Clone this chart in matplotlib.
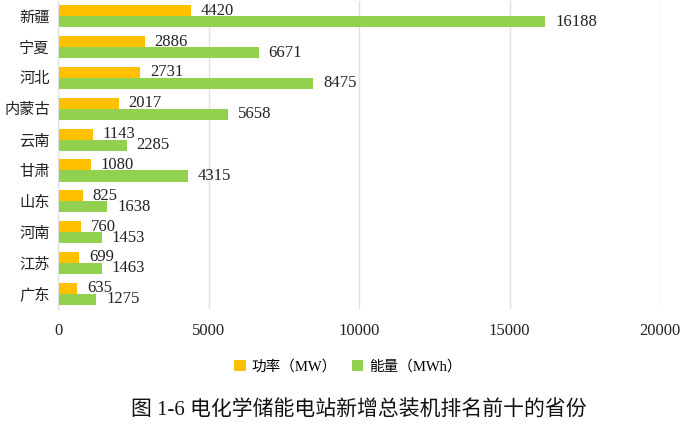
import matplotlib.pyplot as plt
import numpy as np

plt.rcParams['font.family'] = ['Liberation Serif', 'Noto Sans CJK SC', 'DejaVu Sans']

# Data
provinces = ['新疆', '宁夏', '河北', '内蒙古', '云南', '甘肃', '山东', '河南', '江苏', '广东']
power_mw = [4420, 2886, 2731, 2017, 1143, 1080, 825, 760, 699, 635]
energy_mwh = [16188, 6671, 8475, 5658, 2285, 4315, 1638, 1453, 1463, 1275]

orange = '#FFC000'
green = '#92D050'

fig = plt.figure(figsize=(7, 4.3), dpi=100)
ax = fig.add_axes([0.083, 0.281, 0.860, 0.717])

y = np.arange(len(provinces))
h = 0.36
bars_p = ax.barh(y - h / 2, power_mw, height=h, color=orange, label='功率（MW）')
bars_e = ax.barh(y + h / 2, energy_mwh, height=h, color=green, label='能量（MWh）')

# Value labels right of each bar
for bars in (bars_p, bars_e):
    ax.bar_label(bars, padding=7, fontsize=12, color='#222222')

ax.set_xlim(0, 20000)
ax.set_ylim(len(provinces) - 0.5, -0.5)
ax.set_xticks([0, 5000, 10000, 15000, 20000])
ax.set_yticks(y)
ax.set_yticklabels(provinces, fontsize=11, color='#222222')
ax.tick_params(axis='x', labelsize=12, colors='#222222', length=0, pad=10)
ax.tick_params(axis='y', length=0, pad=6)

ax.grid(axis='x', color='#E0E0E0', linewidth=1)
ax.set_axisbelow(True)
for s in ('top', 'right', 'bottom'):
    ax.spines[s].set_visible(False)
ax.spines['left'].set_color('#E0E0E0')

fig.legend(handles=[bars_p, bars_e], loc='center', bbox_to_anchor=(0.497, 0.147),
           ncol=2, frameon=False, fontsize=10.5, handlelength=0.8, handleheight=0.8,
           handletextpad=0.4, columnspacing=1.0)

fig.text(0.513, 0.045, '图 1-6 电化学储能电站新增总装机排名前十的省份',
         ha='center', va='center', fontsize=15, color='#111111')

fig.savefig('out.png', dpi=100)
